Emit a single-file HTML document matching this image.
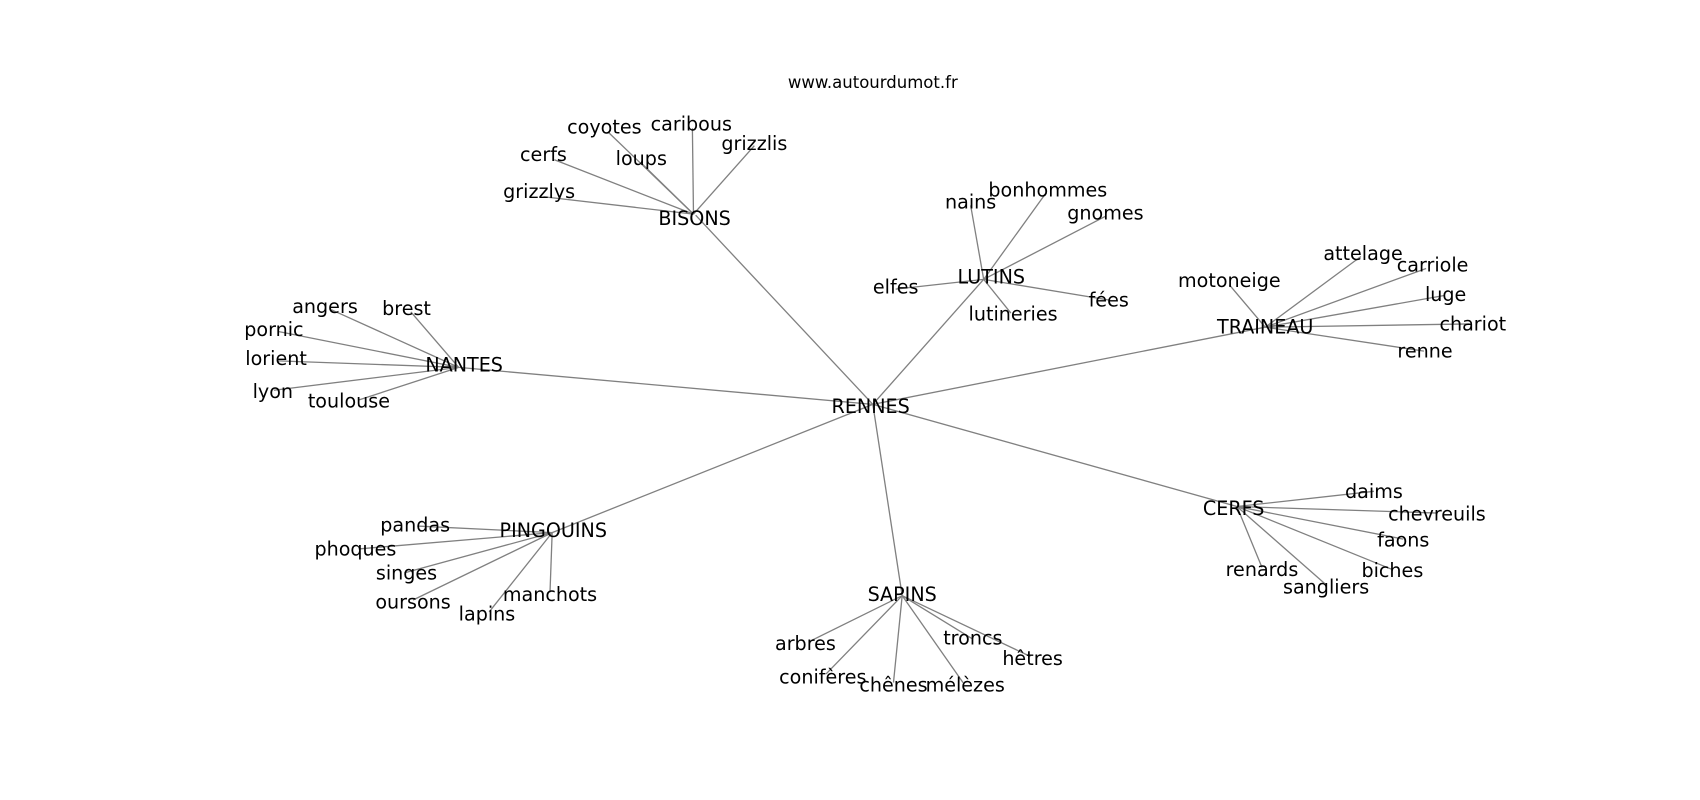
<!DOCTYPE html>
<html><head><meta charset="utf-8"><style>
html,body{margin:0;padding:0;background:#fff;width:1700px;height:800px;overflow:hidden}
svg text{font-family:"DejaVu Sans","Liberation Sans",sans-serif;font-size:17.6px;fill:#000;text-anchor:middle;dominant-baseline:central}
line{stroke:#808080;stroke-width:1.2}
</style></head><body>
<svg width="1700" height="800" viewBox="0 0 1564 736" xmlns="http://www.w3.org/2000/svg">
<g id="edges">
<line x1="803" y1="372" x2="640" y2="198"/>
<line x1="803" y1="372" x2="905" y2="257"/>
<line x1="803" y1="372" x2="1164" y2="301"/>
<line x1="803" y1="372" x2="422" y2="338"/>
<line x1="803" y1="372" x2="508" y2="490"/>
<line x1="803" y1="372" x2="830" y2="548"/>
<line x1="803" y1="372" x2="1138" y2="466"/>
<line x1="638" y1="197" x2="560" y2="122"/>
<line x1="638" y1="197" x2="637" y2="118"/>
<line x1="638" y1="197" x2="694" y2="134"/>
<line x1="638" y1="197" x2="510" y2="147"/>
<line x1="638" y1="197" x2="590" y2="150"/>
<line x1="638" y1="197" x2="500" y2="181"/>
<line x1="905" y1="257" x2="893" y2="189"/>
<line x1="905" y1="257" x2="962" y2="178"/>
<line x1="905" y1="257" x2="1017" y2="199"/>
<line x1="905" y1="257" x2="824" y2="266"/>
<line x1="905" y1="257" x2="1020" y2="276"/>
<line x1="905" y1="257" x2="930" y2="288"/>
<line x1="1164" y1="301" x2="1131" y2="262"/>
<line x1="1164" y1="301" x2="1252" y2="236"/>
<line x1="1164" y1="301" x2="1312" y2="247"/>
<line x1="1164" y1="301" x2="1328" y2="272"/>
<line x1="1164" y1="301" x2="1352" y2="298"/>
<line x1="1164" y1="301" x2="1310" y2="323"/>
<line x1="422" y1="338" x2="305" y2="285"/>
<line x1="422" y1="338" x2="378" y2="287"/>
<line x1="422" y1="338" x2="256" y2="305"/>
<line x1="422" y1="338" x2="256" y2="332"/>
<line x1="422" y1="338" x2="252" y2="359"/>
<line x1="422" y1="338" x2="330" y2="368"/>
<line x1="508" y1="490" x2="384" y2="484"/>
<line x1="508" y1="490" x2="330" y2="505"/>
<line x1="508" y1="490" x2="372" y2="527"/>
<line x1="508" y1="490" x2="380" y2="552"/>
<line x1="508" y1="490" x2="450" y2="563"/>
<line x1="508" y1="490" x2="506" y2="545"/>
<line x1="830" y1="548" x2="745" y2="590"/>
<line x1="830" y1="548" x2="760" y2="620"/>
<line x1="830" y1="548" x2="822" y2="628"/>
<line x1="830" y1="548" x2="886" y2="628"/>
<line x1="830" y1="548" x2="895" y2="588"/>
<line x1="830" y1="548" x2="948" y2="604"/>
<line x1="1138" y1="466" x2="1264" y2="452"/>
<line x1="1138" y1="466" x2="1322" y2="472"/>
<line x1="1138" y1="466" x2="1291" y2="496"/>
<line x1="1138" y1="466" x2="1281" y2="524"/>
<line x1="1138" y1="466" x2="1161" y2="522"/>
<line x1="1138" y1="466" x2="1220" y2="538"/>
</g>
<text x="803" y="76" style="font-size:15.2px">www.autourdumot.fr</text>
<text x="801" y="374">RENNES</text>
<text x="639" y="201">BISONS</text>
<text x="556" y="117">coyotes</text>
<text x="636" y="114">caribous</text>
<text x="694" y="132">grizzlis</text>
<text x="500" y="142">cerfs</text>
<text x="590" y="146">loups</text>
<text x="496" y="176">grizzlys</text>
<text x="912" y="255">LUTINS</text>
<text x="893" y="186">nains</text>
<text x="964" y="175">bonhommes</text>
<text x="1017" y="196">gnomes</text>
<text x="824" y="264">elfes</text>
<text x="1020" y="276">fées</text>
<text x="932" y="289">lutineries</text>
<text x="1164" y="301">TRAINEAU</text>
<text x="1131" y="258">motoneige</text>
<text x="1254" y="233">attelage</text>
<text x="1318" y="244">carriole</text>
<text x="1330" y="271">luge</text>
<text x="1355" y="298">chariot</text>
<text x="1311" y="323">renne</text>
<text x="427" y="336">NANTES</text>
<text x="299" y="282">angers</text>
<text x="374" y="284">brest</text>
<text x="252" y="303">pornic</text>
<text x="254" y="330">lorient</text>
<text x="251" y="360">lyon</text>
<text x="321" y="369">toulouse</text>
<text x="509" y="488">PINGOUINS</text>
<text x="382" y="483">pandas</text>
<text x="327" y="505">phoques</text>
<text x="374" y="527">singes</text>
<text x="380" y="554">oursons</text>
<text x="448" y="565">lapins</text>
<text x="506" y="547">manchots</text>
<text x="830" y="547">SAPINS</text>
<text x="741" y="592">arbres</text>
<text x="757" y="623">conifères</text>
<text x="822" y="630">chênes</text>
<text x="888" y="630">mélèzes</text>
<text x="895" y="587">troncs</text>
<text x="950" y="606">hêtres</text>
<text x="1135" y="468">CERFS</text>
<text x="1264" y="452">daims</text>
<text x="1322" y="473">chevreuils</text>
<text x="1291" y="497">faons</text>
<text x="1281" y="525">biches</text>
<text x="1161" y="524">renards</text>
<text x="1220" y="540">sangliers</text>
</svg>
</body></html>
